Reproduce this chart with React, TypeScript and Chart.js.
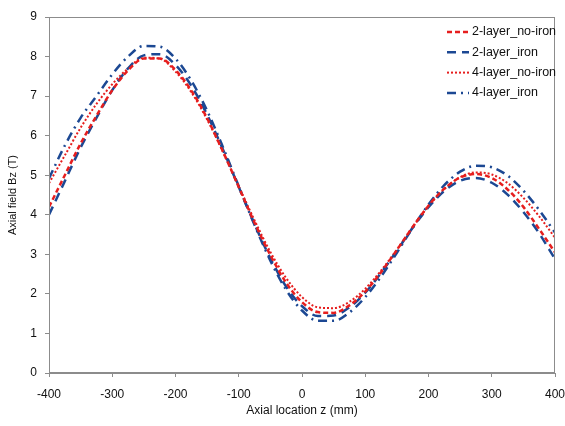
import React, { useEffect, useRef } from "react";
import { Chart, registerables } from "chart.js";

Chart.register(...registerables);

const zValues = [-400, -375, -350, -325, -300, -275, -250, -225, -200, -175, -150, -125, -100, -75, -50, -25, 0, 25, 50, 75, 100, 125, 150, 175, 200, 225, 250, 275, 300, 325, 350, 375, 400];

const twoLayerNoIron = [4.2, 5.0, 5.8, 6.5, 7.15, 7.65, 7.95, 7.95, 7.66, 7.14, 6.44, 5.6, 4.7, 3.8, 2.98, 2.28, 1.79, 1.54, 1.52, 1.71, 2.06, 2.55, 3.11, 3.69, 4.23, 4.66, 4.94, 5.03, 4.93, 4.64, 4.2, 3.64, 3.05];
const twoLayerIron = [4.0, 4.85, 5.7, 6.45, 7.15, 7.7, 8.03, 8.06, 7.79, 7.26, 6.53, 5.65, 4.7, 3.76, 2.9, 2.18, 1.69, 1.44, 1.455, 1.66, 2.03, 2.53, 3.09, 3.67, 4.19, 4.6, 4.86, 4.93, 4.81, 4.51, 4.07, 3.53, 2.88];
const fourLayerNoIron = [4.8, 5.5, 6.2, 6.8, 7.3, 7.7, 7.97, 7.95, 7.62, 7.1, 6.41, 5.59, 4.72, 3.86, 3.06, 2.4, 1.92, 1.66, 1.64, 1.8, 2.13, 2.59, 3.12, 3.69, 4.22, 4.65, 4.95, 5.07, 5.02, 4.8, 4.43, 3.96, 3.42];
const fourLayerIron = [4.92, 5.75, 6.45, 7.0, 7.55, 8.0, 8.27, 8.25, 7.95, 7.39, 6.63, 5.71, 4.72, 3.74, 2.84, 2.1, 1.58, 1.32, 1.32, 1.53, 1.92, 2.44, 3.04, 3.67, 4.26, 4.75, 5.09, 5.24, 5.2, 4.99, 4.61, 4.12, 3.55];

const seriesLabels = ["2-layer_no-iron", "2-layer_iron", "4-layer_no-iron", "4-layer_iron"];
const xTicks = [-400, -300, -200, -100, 0, 100, 200, 300, 400];
const yTicks = [0, 1, 2, 3, 4, 5, 6, 7, 8, 9];

const RED = "#e61e1e";
const BLUE = "#1c4893";
const FONT = '"Liberation Sans", Arial, sans-serif';

const toPoints = (vals: number[]) => vals.map((v, i) => ({ x: zValues[i], y: v }));

const framePlugin = {
  id: "frame",
  afterDatasetsDraw(chart: any) {
    const { ctx, chartArea } = chart;
    ctx.save();
    ctx.strokeStyle = "#8c8c8c";
    ctx.lineWidth = 1;
    ctx.strokeRect(chartArea.left + 0.5, chartArea.top + 0.5, chartArea.right - chartArea.left - 1, chartArea.bottom - chartArea.top - 1);
    ctx.restore();
  },
};

const legendPlugin = {
  id: "insideLegend",
  afterDraw(chart: any) {
    const { ctx, chartArea } = chart;
    chart.data.datasets.forEach((ds: any, i: number) => {
      const y = chartArea.top + 15 + i * 20.3;
      const x0 = chartArea.right - 108;
      ctx.save();
      ctx.strokeStyle = ds.borderColor;
      ctx.lineWidth = ds.borderWidth;
      ctx.setLineDash(ds.borderDash || []);
      ctx.beginPath();
      ctx.moveTo(x0, y);
      ctx.lineTo(x0 + 22, y);
      ctx.stroke();
      ctx.setLineDash([]);
      ctx.fillStyle = "#111";
      ctx.font = `12.5px ${FONT}`;
      ctx.textBaseline = "middle";
      ctx.fillText(ds.label, x0 + 25, y);
      ctx.restore();
    });
  },
};

export default function App() {
  const ref = useRef<HTMLCanvasElement | null>(null);

  useEffect(() => {
    if (!ref.current) return;
    const chart = new Chart(ref.current, {
      type: "line",
      data: {
        datasets: [
          { label: seriesLabels[0], data: toPoints(twoLayerNoIron), borderColor: RED, borderWidth: 2.5, borderDash: [5, 3], pointRadius: 0, fill: false, cubicInterpolationMode: "monotone" },
          { label: seriesLabels[1], data: toPoints(twoLayerIron), borderColor: BLUE, borderWidth: 2.5, borderDash: [9, 6], pointRadius: 0, fill: false, cubicInterpolationMode: "monotone" },
          { label: seriesLabels[2], data: toPoints(fourLayerNoIron), borderColor: RED, borderWidth: 2, borderDash: [2, 2], pointRadius: 0, fill: false, cubicInterpolationMode: "monotone" },
          { label: seriesLabels[3], data: toPoints(fourLayerIron), borderColor: BLUE, borderWidth: 2.5, borderDash: [9, 5, 2, 5], pointRadius: 0, fill: false, cubicInterpolationMode: "monotone" },
        ],
      },
      options: {
        responsive: false,
        animation: false,
        events: [],
        layout: { padding: { top: 17, right: 10, left: 0, bottom: 0 } },
        plugins: { legend: { display: false }, tooltip: { enabled: false } },
        scales: {
          x: {
            type: "linear",
            min: -400,
            max: 400,
            afterBuildTicks: (scale: any) => { scale.ticks = xTicks.map((v) => ({ value: v })); },
            afterFit: (scale: any) => { scale.height = 53; scale.paddingRight = 0; scale.paddingLeft = 0; },
            grid: { display: true, drawOnChartArea: false, drawTicks: true, tickLength: 4, color: "#8c8c8c" },
            border: { display: true, color: "#8c8c8c" },
            ticks: { color: "#111", font: { size: 12, family: FONT }, padding: 10, maxRotation: 0 },
            title: { display: true, text: "Axial location z (mm)", color: "#111", font: { size: 12, family: FONT }, padding: { top: 4, bottom: 8 } },
          },
          y: {
            type: "linear",
            min: 0,
            max: 9,
            afterBuildTicks: (scale: any) => { scale.ticks = yTicks.map((v) => ({ value: v })); },
            afterFit: (scale: any) => { scale.width = 49; },
            grid: { display: true, drawOnChartArea: false, drawTicks: true, tickLength: 4, color: "#8c8c8c" },
            border: { display: true, color: "#8c8c8c" },
            ticks: { color: "#111", font: { size: 12, family: FONT }, padding: 8 },
            title: { display: true, text: "Axial field Bz (T)", color: "#111", font: { size: 11, family: FONT }, padding: { top: 6, bottom: 4 } },
          },
        },
      },
      plugins: [framePlugin, legendPlugin],
    } as any);
    return () => chart.destroy();
  }, []);

  return (
    <div style={{ position: "absolute", left: 0, top: 0, width: 565, height: 426, background: "#fff" }}>
      <canvas ref={ref} width={565} height={426} />
    </div>
  );
}
